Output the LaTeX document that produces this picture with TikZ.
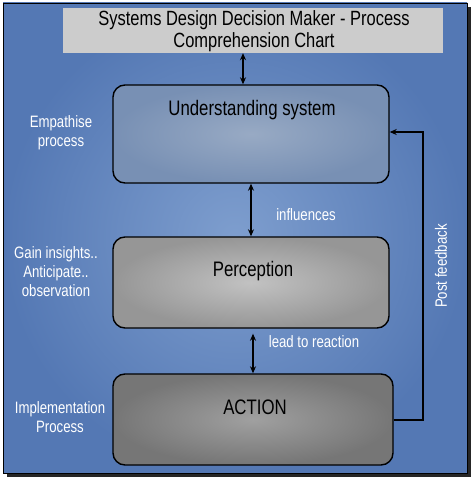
\documentclass[tikz,border=0pt]{standalone}
\usepackage{fontspec}
\setmainfont{Liberation Sans}[FakeStretch=0.8]
\usetikzlibrary{arrows.meta,shadings}
\definecolor{bgouter}{RGB}{84,120,180}
\definecolor{bginner}{RGB}{126,158,206}
\definecolor{undouter}{RGB}{120,144,180}
\definecolor{undinner}{RGB}{152,170,196}
\definecolor{perouter}{RGB}{150,150,150}
\definecolor{perinner}{RGB}{194,194,194}
\definecolor{actouter}{RGB}{118,118,118}
\definecolor{actinner}{RGB}{160,160,160}
\definecolor{titlegrey}{RGB}{204,204,204}
\tikzset{
  box/.style={draw=black, line width=1.4pt, rounded corners=12pt, inner sep=0pt},
  boxtext/.style={text=black, font=\fontsize{21}{23}\selectfont, inner sep=0pt},
  sidetext/.style={text=white, align=center, font=\fontsize{16.5}{19}\selectfont, inner sep=0pt},
  arr/.style={line width=1.6pt, {Stealth[length=7pt,width=6pt]}-{Stealth[length=7pt,width=6pt]}},
  fb/.style={line width=1.4pt, -{Stealth[length=7pt,width=6pt]}}
}
\begin{document}
\begin{tikzpicture}[x=1pt,y=-1pt]
\useasboundingbox (0,0) rectangle (474,495);
% background panel with shadow
\fill[black!85] (7,7) rectangle (471,477);
\node[draw=black, line width=0.8pt, inner sep=0pt, minimum width=464pt, minimum height=470pt,
  inner color=bginner, outer color=bgouter] (bg) at (235,238) {};
% title
\node[fill=titlegrey, inner sep=0pt, minimum width=380pt, minimum height=45pt] (title) at (253,30.5) {};
\node[text=black, align=center, font=\fontsize{20.6}{22}\selectfont, inner sep=0pt] (titletext) at (254,31) {Systems Design Decision Maker - Process\\Comprehension Chart};
% boxes
\node[box, minimum width=276pt, minimum height=98pt, inner color=undinner, outer color=undouter] (und) at (251,134) {};
\node[box, minimum width=276pt, minimum height=91pt, inner color=perinner, outer color=perouter] (per) at (251,282.5) {};
\node[box, minimum width=280pt, minimum height=91pt, inner color=actinner, outer color=actouter] (act) at (253,419.5) {};
\node[boxtext] (undtext) at (252,110) {Understanding system};
\node[boxtext] (pertext) at (253,271) {Perception};
\node[boxtext] (acttext) at (255,407) {ACTION};
% side labels
\node[sidetext] (emp) at (61,133) {Empathise\\process};
\node[sidetext] (gain) at (56,272) {Gain insights..\\Anticipate..\\observation};
\node[sidetext] (impl) at (60,417) {Implementation\\Process};
\node[sidetext] (infl) at (306,215) {influences};
\node[sidetext] (lead) at (314,342) {lead to reaction};
\node[sidetext, rotate=90] (post) at (441,266) {Post feedback};
% arrows
\coordinate (a1) at (243,0);
\coordinate (a3) at (253,0);
\draw[arr] (title.south -| a1) -- (und.north -| a1);
\draw[arr] (und.south) -- (per.north);
\draw[arr, shorten <=5pt] (per.south -| a3) -- (act.north -| a3);
\coordinate (fb1) at (423,420);
\coordinate (fb2) at (423,132);
\draw[fb] (act.east |- fb1) -- (fb1) -- (fb2) -- (und.east |- fb2);
\end{tikzpicture}
\end{document}
